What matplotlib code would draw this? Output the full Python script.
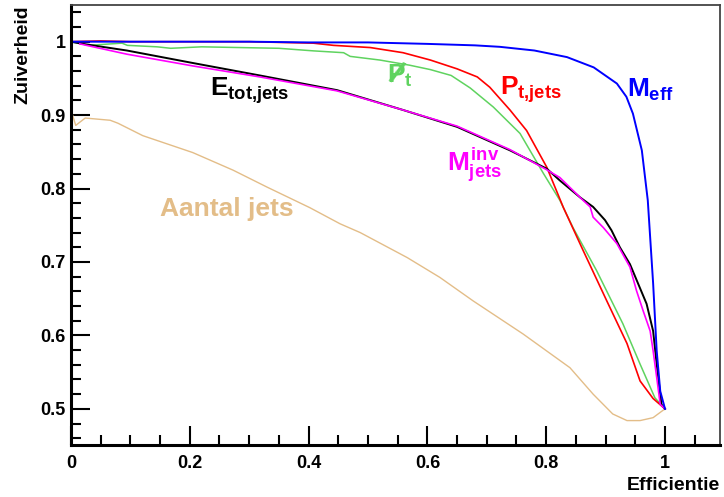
import matplotlib
matplotlib.use("Agg")
import matplotlib.pyplot as plt
from matplotlib.ticker import MultipleLocator, FuncFormatter

plt.rcParams['font.family'] = ['Liberation Sans', 'DejaVu Sans']
plt.rcParams['font.weight'] = 'bold'
plt.rcParams['mathtext.fontset'] = 'custom'
plt.rcParams['mathtext.rm'] = 'Liberation Sans:bold'
plt.rcParams['mathtext.bf'] = 'Liberation Sans:bold'
plt.rcParams['mathtext.it'] = 'Liberation Sans:bold'
plt.rcParams['mathtext.sf'] = 'Liberation Sans:bold'

# ---- data ----
meff_x = [0, 0.1, 0.2, 0.3, 0.4, 0.5, 0.6, 0.68, 0.722, 0.78, 0.835, 0.88, 0.919, 0.935, 0.946, 0.961, 0.971, 0.98, 0.986, 0.992, 1.0]
meff_y = [1.0, 1.0, 1.0, 1.0, 0.999, 0.999, 0.997, 0.995, 0.993, 0.988, 0.979, 0.965, 0.943, 0.925, 0.902, 0.852, 0.784, 0.671, 0.579, 0.524, 0.5]

ptjets_x = [0, 0.05, 0.1, 0.2, 0.3, 0.408, 0.442, 0.504, 0.559, 0.605, 0.65, 0.684, 0.705, 0.739, 0.767, 0.801, 0.829, 0.862, 0.902, 0.936, 0.958, 0.980, 1.0]
ptjets_y = [1.0, 1.001, 1.0, 1.0, 1.0, 0.998, 0.995, 0.992, 0.985, 0.975, 0.963, 0.952, 0.938, 0.907, 0.879, 0.829, 0.774, 0.716, 0.647, 0.589, 0.538, 0.514, 0.5]

ptmiss_x = [0, 0.03, 0.086, 0.095, 0.145, 0.168, 0.22, 0.35, 0.408, 0.459, 0.47, 0.52, 0.57, 0.605, 0.64, 0.672, 0.711, 0.756, 0.795, 0.823, 0.845, 0.885, 0.929, 0.958, 0.983, 1.0]
ptmiss_y = [1.0, 0.995, 0.998, 0.995, 0.993, 0.991, 0.993, 0.991, 0.9875, 0.985, 0.980, 0.975, 0.968, 0.962, 0.954, 0.937, 0.911, 0.875, 0.821, 0.784, 0.747, 0.688, 0.616, 0.561, 0.515, 0.5]

etot_x = [0, 0.02, 0.094, 0.205, 0.318, 0.448, 0.559, 0.65, 0.739, 0.801, 0.823, 0.857, 0.879, 0.899, 0.910, 0.924, 0.941, 0.955, 0.969, 0.980, 0.986, 0.994, 1.0]
etot_y = [1.0, 0.997, 0.988, 0.971, 0.954, 0.934, 0.907, 0.884, 0.852, 0.827, 0.811, 0.788, 0.775, 0.757, 0.743, 0.720, 0.697, 0.670, 0.643, 0.606, 0.561, 0.506, 0.5]

minv_x = [0.015, 0.094, 0.205, 0.318, 0.448, 0.559, 0.65, 0.739, 0.80, 0.823, 0.862, 0.874, 0.879, 0.896, 0.919, 0.941, 0.952, 0.963, 0.975, 0.98, 0.986, 0.992, 1.0]
minv_y = [0.997, 0.983, 0.967, 0.952, 0.933, 0.907, 0.885, 0.853, 0.826, 0.815, 0.784, 0.775, 0.761, 0.747, 0.725, 0.693, 0.661, 0.634, 0.606, 0.579, 0.543, 0.506, 0.5]

njets_x = [0.002, 0.008, 0.024, 0.066, 0.079, 0.121, 0.205, 0.273, 0.330, 0.402, 0.453, 0.487, 0.566, 0.621, 0.677, 0.761, 0.840, 0.879, 0.912, 0.936, 0.958, 0.98, 1.0]
njets_y = [0.902, 0.886, 0.896, 0.893, 0.889, 0.872, 0.849, 0.825, 0.802, 0.774, 0.752, 0.740, 0.706, 0.679, 0.647, 0.602, 0.556, 0.520, 0.493, 0.484, 0.484, 0.488, 0.500]

x_label = "Efficientie"
y_label = "Zuiverheid"

# ---- figure ----
fig = plt.figure(figsize=(7.24, 4.97), dpi=100)
ax = fig.add_axes([0.098, 0.105, 0.896, 0.885])

c_tan = '#e3bd88'
c_green = '#5fd35f'
ax.plot(njets_x, njets_y, color=c_tan, lw=1.0)
ax.plot(ptmiss_x, ptmiss_y, color=c_green, lw=1.1)
ax.plot(ptjets_x, ptjets_y, color='#ff0000', lw=1.2)
ax.plot(etot_x, etot_y, color='black', lw=1.4)
ax.plot(minv_x, minv_y, color='#ff00ff', lw=1.2)
ax.plot(meff_x, meff_y, color='#0000ff', lw=1.4)

ax.set_xlim(0, 1.092)
ax.set_ylim(0.451, 1.05)

ax.xaxis.set_major_locator(MultipleLocator(0.2))
ax.xaxis.set_minor_locator(MultipleLocator(0.05))
ax.yaxis.set_major_locator(MultipleLocator(0.1))
ax.yaxis.set_minor_locator(MultipleLocator(0.02))
fmt = FuncFormatter(lambda v, p: ('%g' % round(v, 3)))
ax.xaxis.set_major_formatter(fmt)
ax.yaxis.set_major_formatter(fmt)

ax.tick_params(axis='both', which='both', direction='in', top=False, right=False, width=1.5, colors='black')
ax.tick_params(axis='both', which='major', length=14, labelsize=13)
ax.tick_params(axis='both', which='minor', length=7)
ax.tick_params(axis='x', which='major', pad=7)
ax.tick_params(axis='y', which='major', pad=4)
for lab in ax.get_xticklabels() + ax.get_yticklabels():
    lab.set_fontweight('bold')

ax.spines['left'].set_linewidth(2.2)
ax.spines['bottom'].set_linewidth(2.2)
ax.spines['top'].set_linewidth(1.3)
ax.spines['right'].set_linewidth(1.3)
ax.spines['top'].set_color('#444444')
ax.spines['right'].set_color('#444444')

ax.set_xlabel(x_label, fontsize=14, fontweight='bold', loc='right', labelpad=4)
ax.set_ylabel(y_label, fontsize=14, fontweight='bold', loc='top', labelpad=6)

# ---- curve labels ----
fs = 19
ax.text(0.234, 0.933, r'$E_{tot{,}jets}$', color='black', fontsize=fs, va='center', ha='left')
ax.text(0.532, 0.953, r'$P_{t}$', color=c_green, fontsize=fs, va='center', ha='left')
ax.text(0.547, 0.956, '/', color=c_green, fontsize=22, va='center', ha='center',
        fontweight='bold', rotation=-28)
ax.text(0.722, 0.935, r'$P_{t{,}jets}$', color='#ff0000', fontsize=fs, va='center', ha='left')
ax.text(0.936, 0.935, r'$M_{eff}$', color='#0000ff', fontsize=fs, va='center', ha='left')
ax.text(0.633, 0.832, r'$M^{inv}_{jets}$', color='#ff00ff', fontsize=fs, va='center', ha='left')
ax.text(0.15, 0.772, 'Aantal jets', color=c_tan, fontsize=fs, va='center', ha='left', fontweight='bold')

fig.savefig('out.png', dpi=100)
